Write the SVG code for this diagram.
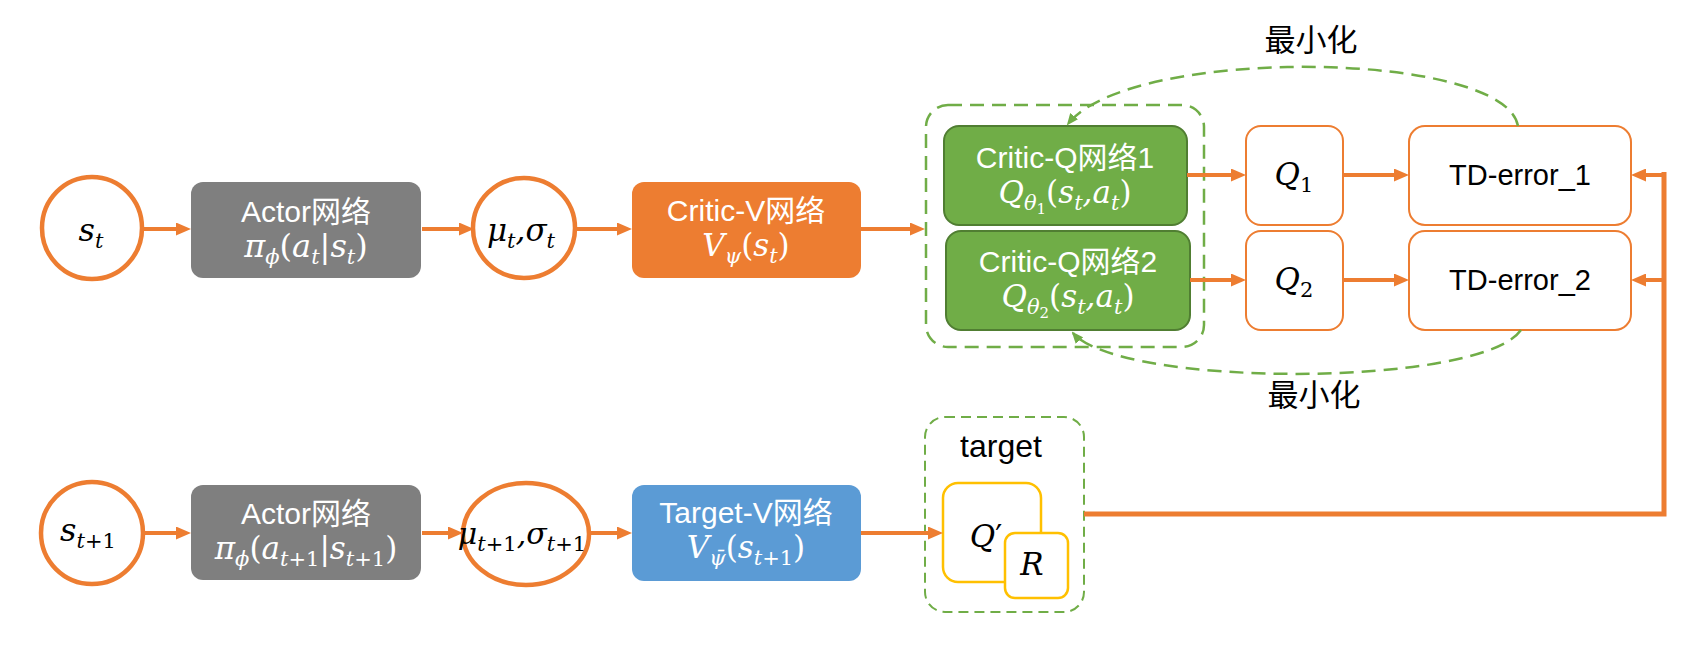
<svg xmlns="http://www.w3.org/2000/svg" width="1696" height="664" viewBox="0 0 1696 664">
  <style>
    .lbl { font-family: "Liberation Sans", "Noto Sans CJK SC", sans-serif; font-size: 30px; text-anchor: middle; }
    .cjk { font-family: "Noto Sans CJK SC", sans-serif; font-size: 31px; text-anchor: middle; fill: #000; }
    .m { font-family: "DejaVu Serif", "Liberation Serif", serif; font-style: italic; font-size: 31px; text-anchor: middle; }
    .s { font-size: 21px; }
    .ss { font-size: 15px; }
    .u { font-style: normal; }
    .w { fill: #ffffff; }
    .k { fill: #000000; }
    .state { fill: #ffffff; stroke: #ed7d31; stroke-width: 4.5; }
    .out { fill: #ffffff; stroke: #ed7d31; stroke-width: 2; }
    .actor { fill: #7f7f7f; }
    .critic-v { fill: #ed7d31; }
    .critic-q { fill: #70ad47; stroke: #507e32; stroke-width: 2; }
    .target-v { fill: #5b9bd5; }
    .yel { fill: #ffffff; stroke: #ffc000; stroke-width: 2.5; }
    .group { fill: none; stroke: #70ad47; stroke-width: 2.5; stroke-dasharray: 14 8; }
    .group-t { fill: none; stroke: #70ad47; stroke-width: 2; stroke-dasharray: 10 6; }
    .flow { fill: none; stroke: #ed7d31; stroke-width: 4; marker-end: url(#arrow); }
    .bus { fill: none; stroke: #ed7d31; stroke-width: 5; }
    .loss { fill: none; stroke: #70ad47; stroke-width: 2.5; stroke-dasharray: 14 8; marker-end: url(#garrow); }
  </style>
  <defs>
    <marker id="arrow" viewBox="0 0 15 13" refX="5" refY="6.5" markerWidth="15" markerHeight="13" markerUnits="userSpaceOnUse" orient="auto">
      <path d="M0,0 L15,6.5 L0,13 z" fill="#ed7d31"/>
    </marker>
    <marker id="garrow" viewBox="0 0 12 10" refX="10" refY="5" markerWidth="12" markerHeight="10" markerUnits="userSpaceOnUse" orient="auto">
      <path d="M0,0 L12,5 L0,10 z" fill="#70ad47"/>
    </marker>
  </defs>

  <rect width="1696" height="664" fill="#ffffff"/>

  <!-- dashed group frames -->
  <g id="critic-q-group">
    <rect class="group" x="926" y="105" width="278" height="242" rx="22"/>
  </g>
  <g id="target-group">
    <rect class="group-t" x="925" y="417" width="159" height="195" rx="20"/>
    <text class="lbl k" x="1001" y="457" style="font-size:32px">target</text>
  </g>

  <!-- upper row: current state -->
  <g id="s-t">
    <ellipse class="state" cx="92" cy="228" rx="50" ry="51"/>
    <text class="m k" x="91" y="241" style="font-size:32px">s<tspan class="s" dy="7">t</tspan></text>
  </g>
  <g id="actor">
    <rect class="actor" x="191" y="182" width="230" height="96" rx="12"/>
    <text class="lbl w" x="306" y="222">Actor网络</text>
    <text class="m w" x="306" y="257" style="font-size:32px">π<tspan class="s" dy="7">ϕ</tspan><tspan class="u" dy="-7">(</tspan>a<tspan class="s" dy="7">t</tspan><tspan class="u" dy="-7">|</tspan>s<tspan class="s" dy="7">t</tspan><tspan class="u" dy="-7">)</tspan></text>
  </g>
  <g id="mu-sigma">
    <ellipse class="state" cx="524" cy="228" rx="51" ry="50"/>
    <text class="m k" x="521" y="241">μ<tspan class="s" dy="7">t</tspan><tspan dy="-7">,σ</tspan><tspan class="s" dy="7">t</tspan></text>
  </g>
  <g id="critic-v">
    <rect class="critic-v" x="632" y="182" width="229" height="96" rx="12"/>
    <text class="lbl w" x="746" y="221">Critic-V网络</text>
    <text class="m w" x="746" y="256">V<tspan class="s" dy="7">ψ</tspan><tspan class="u" dy="-7">(</tspan>s<tspan class="s" dy="7">t</tspan><tspan class="u" dy="-7">)</tspan></text>
  </g>
  <g id="critic-q1">
    <rect class="critic-q" x="944" y="126" width="243" height="99" rx="15"/>
    <text class="lbl w" x="1065" y="168">Critic-Q网络1</text>
    <text class="m w" x="1065" y="203">Q<tspan class="s" dy="7">θ</tspan><tspan class="ss u" dy="4">1</tspan><tspan class="u" dy="-11">(</tspan>s<tspan class="s" dy="7">t</tspan><tspan dy="-7">,a</tspan><tspan class="s" dy="7">t</tspan><tspan class="u" dy="-7">)</tspan></text>
  </g>
  <g id="critic-q2">
    <rect class="critic-q" x="946" y="231" width="244" height="99" rx="15"/>
    <text class="lbl w" x="1068" y="272">Critic-Q网络2</text>
    <text class="m w" x="1068" y="307">Q<tspan class="s" dy="7">θ</tspan><tspan class="ss u" dy="4">2</tspan><tspan class="u" dy="-11">(</tspan>s<tspan class="s" dy="7">t</tspan><tspan dy="-7">,a</tspan><tspan class="s" dy="7">t</tspan><tspan class="u" dy="-7">)</tspan></text>
  </g>
  <g id="q1">
    <rect class="out" x="1246" y="126" width="97" height="99" rx="15"/>
    <text class="m k" x="1294" y="185">Q<tspan class="s u" dy="7">1</tspan></text>
  </g>
  <g id="q2">
    <rect class="out" x="1246" y="231" width="97" height="99" rx="15"/>
    <text class="m k" x="1294" y="290">Q<tspan class="s u" dy="7">2</tspan></text>
  </g>
  <g id="td-error-1">
    <rect class="out" x="1409" y="126" width="222" height="99" rx="16"/>
    <text class="lbl k" x="1520" y="185" style="font-size:29px">TD-error_1</text>
  </g>
  <g id="td-error-2">
    <rect class="out" x="1409" y="231" width="222" height="99" rx="16"/>
    <text class="lbl k" x="1520" y="290" style="font-size:29px">TD-error_2</text>
  </g>
  <g id="minimize-top">
    <text class="cjk" x="1311" y="51">最小化</text>
  </g>
  <g id="minimize-bottom">
    <text class="cjk" x="1314" y="406">最小化</text>
  </g>

  <!-- lower row: next state -->
  <g id="s-t1">
    <ellipse class="state" cx="92" cy="533" rx="51" ry="51"/>
    <text class="m k" x="88" y="541" style="font-size:32px">s<tspan class="s" dy="7">t<tspan class="u">+1</tspan></tspan></text>
  </g>
  <g id="actor-next">
    <rect class="actor" x="191" y="485" width="230" height="95" rx="12"/>
    <text class="lbl w" x="306" y="524">Actor网络</text>
    <text class="m w" x="306" y="559">π<tspan class="s" dy="7">ϕ</tspan><tspan class="u" dy="-7">(</tspan>a<tspan class="s" dy="7">t<tspan class="u">+1</tspan></tspan><tspan class="u" dy="-7">|</tspan>s<tspan class="s" dy="7">t<tspan class="u">+1</tspan></tspan><tspan class="u" dy="-7">)</tspan></text>
  </g>
  <g id="mu-sigma-next">
    <ellipse class="state" cx="526" cy="534" rx="63" ry="51"/>
    <text class="m k" x="522" y="544" style="font-size:30px">μ<tspan class="s" dy="7">t<tspan class="u">+1</tspan></tspan><tspan dy="-7">,σ</tspan><tspan class="s" dy="7">t<tspan class="u">+1</tspan></tspan></text>
  </g>
  <g id="target-v">
    <rect class="target-v" x="632" y="485" width="229" height="96" rx="12"/>
    <text class="lbl w" x="746" y="523">Target-V网络</text>
    <text class="m w" x="746" y="558">V<tspan class="s" dy="7">ψ̄</tspan><tspan class="u" dy="-7">(</tspan>s<tspan class="s" dy="7">t<tspan class="u">+1</tspan></tspan><tspan class="u" dy="-7">)</tspan></text>
  </g>
  <g id="q-prime">
    <rect class="yel" x="943" y="483" width="98" height="99" rx="15"/>
    <text class="m k" x="986" y="547">Q<tspan class="u">′</tspan></text>
  </g>
  <g id="reward">
    <rect class="yel" x="1005" y="533" width="63" height="65" rx="10"/>
    <text class="m k" x="1032" y="575">R</text>
  </g>

  <!-- connectors -->
  <g id="connectors">
    <line class="flow" x1="143" y1="229" x2="181" y2="229"/>
    <line class="flow" x1="422" y1="229" x2="464" y2="229"/>
    <line class="flow" x1="576" y1="229" x2="622" y2="229"/>
    <line class="flow" x1="861" y1="229" x2="915" y2="229"/>
    <line class="flow" x1="1187" y1="175" x2="1236" y2="175"/>
    <line class="flow" x1="1190" y1="280" x2="1236" y2="280"/>
    <line class="flow" x1="1343" y1="175" x2="1399" y2="175"/>
    <line class="flow" x1="1343" y1="280" x2="1399" y2="280"/>

    <line class="flow" x1="143" y1="533" x2="181" y2="533"/>
    <line class="flow" x1="422" y1="533" x2="453" y2="533"/>
    <line class="flow" x1="589" y1="533" x2="622" y2="533"/>
    <line class="flow" x1="861" y1="533" x2="933" y2="533"/>

    <!-- target value fed back to both TD errors -->
    <path class="bus" d="M1084,514 H1664 V172"/>
    <line class="flow" x1="1664" y1="175" x2="1641" y2="175"/>
    <line class="flow" x1="1664" y1="280" x2="1641" y2="280"/>

    <!-- loss feedback to the critics -->
    <path class="loss" d="M1518,126 C1505,50 1130,45 1068,124"/>
    <path class="loss" d="M1521,330 C1480,388 1120,388 1073,333"/>
  </g>
</svg>
